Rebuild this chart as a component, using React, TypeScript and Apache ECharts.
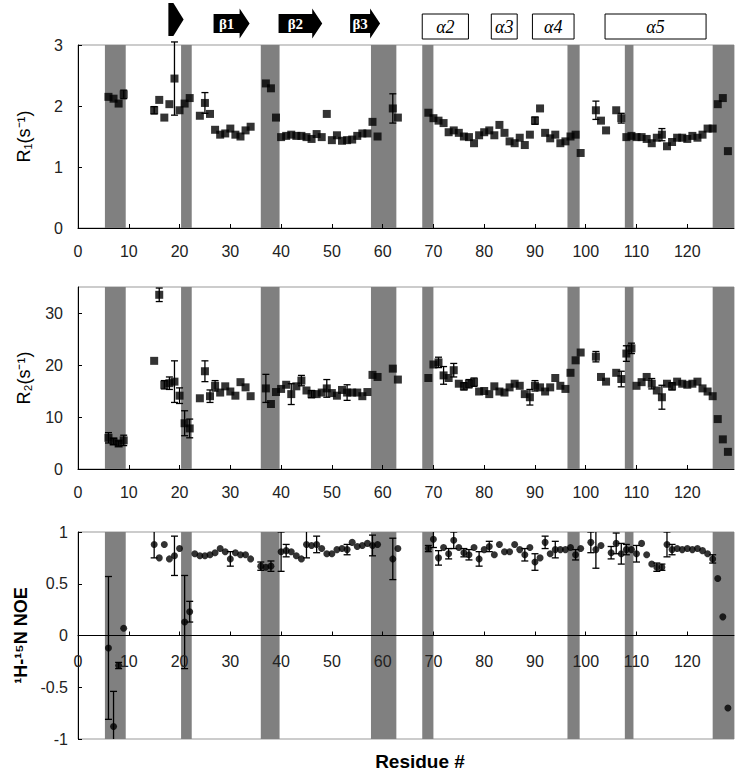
import React, { useEffect, useRef } from "react";
import * as echarts from "echarts";

// ---------- data ----------
const residues = [
  6, 7, 8, 9,
  15, 16, 17, 18, 19, 20, 21, 22,
  24, 25, 26, 27, 28, 29, 30, 31, 32, 33, 34,
  37, 38, 39, 40, 41, 42, 43, 44, 45, 46, 47, 48, 49, 50, 51, 52, 53, 54, 55, 56, 57, 58, 59,
  62, 63,
  69, 70, 71, 72, 73, 74, 75, 76, 77, 78, 79, 80, 81, 82, 83, 84, 85, 86, 87, 88, 89, 90, 91, 92, 93, 94, 95, 96, 97, 98, 99,
  102, 103, 104,
  106, 107, 108, 109, 110, 111, 112, 113, 114, 115, 116, 117, 118, 119, 120, 121, 122, 123, 124, 125, 126, 127, 128,
];

const r1Values = [
  2.15, 2.12, 2.04, 2.19,
  1.93, 2.10, 1.81, 2.03, 2.45, 1.93, 2.04, 2.13,
  1.84, 2.05, 1.87, 1.61, 1.53, 1.55, 1.63, 1.53, 1.50, 1.60, 1.66,
  2.37, 2.29, 1.81, 1.49, 1.51, 1.53, 1.51, 1.51, 1.49, 1.46, 1.54, 1.49, 1.87, 1.44, 1.52, 1.43, 1.44, 1.45, 1.51, 1.55, 1.55, 1.74, 1.50,
  1.96, 1.81,
  1.89, 1.80, 1.76, 1.72, 1.57, 1.60, 1.56, 1.50, 1.49, 1.39, 1.52, 1.57, 1.60, 1.52, 1.69, 1.56, 1.42, 1.39, 1.48, 1.36, 1.53, 1.76, 1.96, 1.56, 1.47, 1.53, 1.39, 1.42, 1.50, 1.53, 1.23,
  1.93, 1.76, 1.60,
  1.93, 1.80, 1.49, 1.51, 1.49, 1.49, 1.46, 1.39, 1.48, 1.53, 1.34, 1.41, 1.48, 1.48, 1.46, 1.51, 1.48, 1.53, 1.63, 1.63, 2.03, 2.13, 1.26,
];

const r1Errors = [
  0, 0, 0, 0.07,
  0.06, 0, 0, 0, 0.6, 0, 0, 0,
  0, 0.17, 0, 0, 0, 0, 0, 0, 0, 0, 0,
  0, 0, 0, 0, 0, 0, 0, 0, 0, 0, 0, 0, 0, 0, 0, 0, 0, 0, 0, 0, 0, 0, 0,
  0.24, 0,
  0, 0, 0, 0, 0, 0, 0, 0, 0, 0, 0, 0, 0, 0, 0, 0, 0, 0, 0, 0, 0, 0.06, 0, 0, 0, 0, 0, 0, 0, 0, 0,
  0.15, 0, 0,
  0, 0.08, 0, 0, 0, 0, 0, 0, 0, 0.1, 0, 0, 0, 0, 0, 0, 0, 0, 0, 0, 0, 0, 0,
];

const r2Values = [
  6.0, 5.3, 4.9, 5.5,
  20.8, 33.5, 16.2, 16.5, 16.8, 14.1, 8.8, 7.8,
  13.6, 18.8, 14.0, 16.0, 14.7, 15.9, 14.9, 14.1, 16.7, 15.7, 14.0,
  15.5, 12.5, 14.8, 15.4, 16.2, 14.4, 15.9, 17.0, 15.1, 14.4, 14.4, 14.7, 15.5, 14.6, 14.1, 15.2, 14.7, 14.7, 14.7, 14.0, 14.8, 18.1, 17.7,
  19.3, 17.2,
  17.5, 20.1, 20.5, 18.0, 17.5, 19.0, 16.4, 15.9, 16.4, 16.7, 14.9, 15.0, 14.4, 15.9, 14.9, 14.7, 15.7, 16.4, 16.0, 14.4, 13.8, 16.0, 15.7, 14.9, 15.7, 17.5, 16.0, 15.4, 18.5, 20.9, 22.4,
  21.6, 17.7, 16.8,
  18.5, 17.3, 22.2, 23.2, 16.0, 16.7, 17.7, 16.4, 15.1, 13.8, 16.4, 15.9, 16.8, 16.4, 16.2, 16.4, 16.8, 15.5, 14.9, 14.0, 9.6, 5.7, 3.3,
];

const r2Errors = [
  1.0, 0.6, 0.5, 1.0,
  0, 1.3, 0.8, 1.2, 4.0, 1.5, 2.4, 1.8,
  0, 2.0, 1.2, 1.0, 0, 0, 0, 0, 0, 0, 0,
  2.7, 0, 0, 0, 0, 2.0, 0, 1.0, 0, 0.7, 0, 0, 1.7, 0, 0, 0, 1.5, 0, 0, 0, 0, 0, 0,
  0, 0,
  0, 0, 1.0, 1.7, 0, 1.3, 0, 0.7, 0.8, 0.8, 0, 0, 0, 0, 0, 0, 0, 0, 0, 0, 1.5, 1.0, 0, 0, 0, 0, 0, 0, 0, 0, 0,
  1.0, 0, 0,
  0, 1.5, 1.5, 1.0, 0, 0, 0, 1.0, 0, 2.3, 0, 0.7, 0, 0, 0, 0, 0, 0, 0, 0, 0, 0, 0,
];

const noeResidues = [
  6, 7, 8, 9,
  15, 16, 17, 18, 19, 20, 21, 22, 23, 24, 25, 26, 27, 28, 29, 30, 31, 32, 33, 34,
  36, 37, 38,
  40, 41, 42, 43, 44, 45, 46, 47, 48, 49, 50, 51, 52, 53, 54, 55, 56, 57, 58, 59,
  62, 63,
  69, 70, 71, 72, 73, 74, 75, 76, 77, 78, 79, 80, 81, 82, 83, 84, 85, 86, 87, 88, 89, 90, 91, 92, 93, 94, 95, 96, 97, 98, 99,
  101, 102, 103,
  105, 106, 107, 108, 109, 110, 111, 112, 113, 114, 115, 116, 117, 118, 119, 120, 121, 122, 123, 124, 125, 126, 127, 128,
];

const noeValues = [
  -0.12, -0.88, -0.29, 0.07,
  0.88, 0.75, 0.88, 0.74, 0.77, 0.84, 0.13, 0.23, 0.79, 0.77, 0.77, 0.78, 0.80, 0.84, 0.81, 0.74, 0.80, 0.78, 0.78, 0.74,
  0.67, 0.66, 0.67,
  0.81, 0.82, 0.81, 0.77, 0.74, 0.88, 0.87, 0.88, 0.84, 0.79, 0.79, 0.83, 0.84, 0.83, 0.90, 0.86, 0.87, 0.89, 0.87, 0.88,
  0.74, 0.84,
  0.84, 0.93, 0.75, 0.85, 0.79, 0.92, 0.85, 0.80, 0.78, 0.85, 0.74, 0.83, 0.86, 0.78, 0.88, 0.81, 0.81, 0.88, 0.83, 0.78, 0.85, 0.71, 0.75, 0.90, 0.79, 0.83, 0.83, 0.83, 0.85, 0.78, 0.84,
  0.90, 0.83, 0.87,
  0.80, 0.89, 0.79, 0.83, 0.83, 0.79, 0.89, 0.78, 0.69, 0.66, 0.66, 0.88, 0.83, 0.84, 0.83, 0.84, 0.83, 0.84, 0.82, 0.79, 0.74, 0.55, 0.18, -0.70,
];

const noeErrors = [
  0.69, 0.34, 0.03, 0,
  0.13, 0, 0, 0, 0.19, 0, 0.45, 0.1, 0, 0, 0, 0, 0, 0, 0, 0.07, 0, 0, 0, 0,
  0.04, 0, 0.05,
  0.19, 0.06, 0, 0, 0, 0.13, 0, 0.08, 0, 0, 0, 0, 0, 0.05, 0, 0, 0, 0, 0.1, 0,
  0.2, 0,
  0.03, 0.08, 0.07, 0, 0.05, 0.08, 0, 0.04, 0.05, 0, 0.07, 0, 0.05, 0, 0, 0, 0, 0, 0, 0.06, 0, 0.08, 0, 0.06, 0, 0.08, 0, 0, 0, 0.05, 0,
  0.1, 0.18, 0,
  0.06, 0.1, 0.1, 0.05, 0, 0.08, 0, 0, 0, 0.04, 0.03, 0.12, 0.05, 0, 0, 0, 0, 0, 0, 0, 0.04, 0, 0, 0,
];

// shaded regions (residue ranges)
const bandStarts = [5.3, 20.3, 36.0, 57.7, 67.8, 96.4, 107.7, 125.0];
const bandEnds = [9.4, 22.4, 39.7, 62.7, 70.0, 98.8, 109.4, 129.2];

// secondary structure elements
const ssStarts = [17.8, 26.7, 39.5, 53.6, 67.8, 81.4, 89.5, 103.8];
const ssEnds = [20.8, 33.8, 48.1, 59.5, 76.9, 86.5, 97.7, 123.7];
const ssLabels = ["", "β1", "β2", "β3", "α2", "α3", "α4", "α5"];
const ssKinds = ["strand", "strand", "strand", "strand", "helix", "helix", "helix", "helix"];

const X_MAX = 129.2;

// ---------- helpers ----------
const FONT = '"Liberation Sans", Arial, sans-serif';
const SERIF = '"Liberation Serif", "Times New Roman", serif';

function errRender(_params: any, api: any) {
  const x = api.value(0);
  const y = api.value(1);
  const e = api.value(2);
  if (!e) return { type: "group", children: [] };
  const top = api.coord([x, y + e]);
  const bot = api.coord([x, y - e]);
  const cap = 3.5;
  const st = { stroke: "#000", lineWidth: 1.3 };
  return {
    type: "group",
    children: [
      { type: "line", shape: { x1: top[0], y1: top[1], x2: bot[0], y2: bot[1] }, style: st },
      { type: "line", shape: { x1: top[0] - cap, y1: top[1], x2: top[0] + cap, y2: top[1] }, style: st },
      { type: "line", shape: { x1: bot[0] - cap, y1: bot[1], x2: bot[0] + cap, y2: bot[1] }, style: st },
    ],
  };
}

function ssRender(_params: any, api: any) {
  const i = api.value(2);
  const x1 = api.coord([api.value(0), 0])[0];
  const x2 = api.coord([api.value(1), 0])[0];
  const label = ssLabels[i];
  if (ssKinds[i] === "helix") {
    return {
      type: "group",
      children: [
        {
          type: "rect",
          shape: { x: x1, y: 14, width: x2 - x1, height: 25 },
          style: { fill: "#fff", stroke: "#000", lineWidth: 1 },
        },
        {
          type: "text",
          x: (x1 + x2) / 2,
          y: 27,
          style: {
            text: label,
            fill: "#000",
            font: `italic 18px ${SERIF}`,
            align: "center",
            verticalAlign: "middle",
            textAlign: "center",
            textVerticalAlign: "middle",
          },
        },
      ],
    };
  }
  if (!label) {
    return {
      type: "polygon",
      shape: { points: [[x1, 3], [x1 + 5, 3], [x2, 19.5], [x1 + 5, 36], [x1, 36]] },
      style: { fill: "#000" },
    };
  }
  const hx = x2 - 10;
  return {
    type: "group",
    children: [
      {
        type: "polygon",
        shape: {
          points: [[x1, 14], [hx, 14], [hx, 8.5], [x2, 23.5], [hx, 38.5], [hx, 33], [x1, 33]],
        },
        style: { fill: "#000" },
      },
      {
        type: "text",
        x: (x1 + hx) / 2,
        y: 24,
        style: {
          text: label,
          fill: "#fff",
          font: `bold 15px ${SERIF}`,
          align: "center",
          verticalAlign: "middle",
          textAlign: "center",
          textVerticalAlign: "middle",
        },
      },
    ],
  };
}

const bandData = bandStarts.map((s, i) => [{ xAxis: s }, { xAxis: bandEnds[i] }]);

function xAxisFor(gridIndex: number, offset: number, margin: number) {
  return {
    type: "value",
    gridIndex,
    position: "bottom",
    offset,
    min: 0,
    max: X_MAX,
    interval: 10,
    z: 5,
    axisLine: { show: true, onZero: false, lineStyle: { color: "#000", width: 1 } },
    axisTick: { show: true, inside: true, length: 4, lineStyle: { color: "#000" } },
    axisLabel: { color: "#222", fontSize: 16, fontFamily: FONT, margin, showMaxLabel: false },
    splitLine: { show: false },
  };
}

function yAxisFor(gridIndex: number, min: number, max: number, interval: number, name: string, bold: boolean, margin: number, nameGap: number, showMax: boolean) {
  return {
    type: "value",
    gridIndex,
    min,
    max,
    interval,
    z: 5,
    name,
    nameLocation: "middle",
    nameGap,
    nameTextStyle: {
      color: "#000",
      fontSize: 18,
      fontFamily: FONT,
      fontWeight: bold ? "bold" : "normal",
    },
    axisLine: { show: true, onZero: false, lineStyle: { color: "#000", width: 1 } },
    axisTick: { show: true, inside: true, length: 4, lineStyle: { color: "#000" } },
    axisLabel: { color: "#222", fontSize: 16, fontFamily: FONT, margin, showMaxLabel: showMax },
    splitLine: { show: false },
  };
}

function scatterFor(idx: number, xs: number[], ys: number[], symbol: string, size: number) {
  return {
    type: "scatter",
    xAxisIndex: idx,
    yAxisIndex: idx,
    symbol,
    symbolSize: size,
    itemStyle: { color: "#000" },
    z: 3,
    silent: true,
    data: xs.map((x, i) => [x, ys[i]]),
    markArea: {
      silent: true,
      itemStyle: { color: "#808080" },
      label: { show: false },
      data: bandData,
    },
  };
}

function errSeriesFor(idx: number, xs: number[], ys: number[], es: number[], clip: boolean) {
  return {
    type: "custom",
    xAxisIndex: idx,
    yAxisIndex: idx,
    clip,
    z: 4,
    silent: true,
    renderItem: errRender,
    encode: { x: 0, y: 1 },
    data: xs.map((x, i) => [x, ys[i], es[i]]),
  };
}

export default function App() {
  const ref = useRef<HTMLDivElement>(null);
  useEffect(() => {
    if (!ref.current) return;
    const chart = echarts.init(ref.current, undefined, { renderer: "svg" });
    const gridStyle = { show: true, borderColor: "#999", borderWidth: 1, backgroundColor: "#fff", containLabel: false };
    const noeHeight = 207;
    const option: any = {
      animation: false,
      backgroundColor: "#fff",
      grid: [
        { ...gridStyle, left: 78, top: 45, width: 656, height: 183 },
        { ...gridStyle, left: 78, top: 287, width: 656, height: 182 },
        { ...gridStyle, left: 78, top: 532, width: 656, height: noeHeight },
      ],
      xAxis: [xAxisFor(0, 0, 15), xAxisFor(1, 0, 15), xAxisFor(2, -noeHeight / 2, 18)],
      yAxis: [
        yAxisFor(0, 0, 3, 1, "R₁(s⁻¹)", false, 15, 45, true),
        yAxisFor(1, 0, 35, 10, "R₂(s⁻¹)", false, 15, 45, false),
        yAxisFor(2, -1, 1, 0.5, "¹H-¹⁵N NOE", true, 10, 45, true),
      ],
      graphic: [
        {
          type: "text",
          x: 420,
          y: 761,
          style: {
            text: "Residue #",
            fill: "#000",
            font: `bold 19px ${FONT}`,
            align: "center",
            verticalAlign: "middle",
            textAlign: "center",
            textVerticalAlign: "middle",
          },
        },
      ],
      series: [
        scatterFor(0, residues, r1Values, "rect", 8),
        errSeriesFor(0, residues, r1Values, r1Errors, false),
        scatterFor(1, residues, r2Values, "rect", 8),
        errSeriesFor(1, residues, r2Values, r2Errors, true),
        scatterFor(2, noeResidues, noeValues, "circle", 7),
        errSeriesFor(2, noeResidues, noeValues, noeErrors, true),
        {
          type: "custom",
          xAxisIndex: 0,
          yAxisIndex: 0,
          clip: false,
          z: 6,
          silent: true,
          renderItem: ssRender,
          encode: { x: [0, 1] },
          data: ssStarts.map((s, i) => [s, ssEnds[i], i]),
        },
      ],
    };
    chart.setOption(option);
    return () => chart.dispose();
  }, []);
  return (
    <div
      ref={ref}
      style={{ position: "fixed", left: 0, top: 0, width: 756, height: 775, background: "#fff" }}
    />
  );
}
